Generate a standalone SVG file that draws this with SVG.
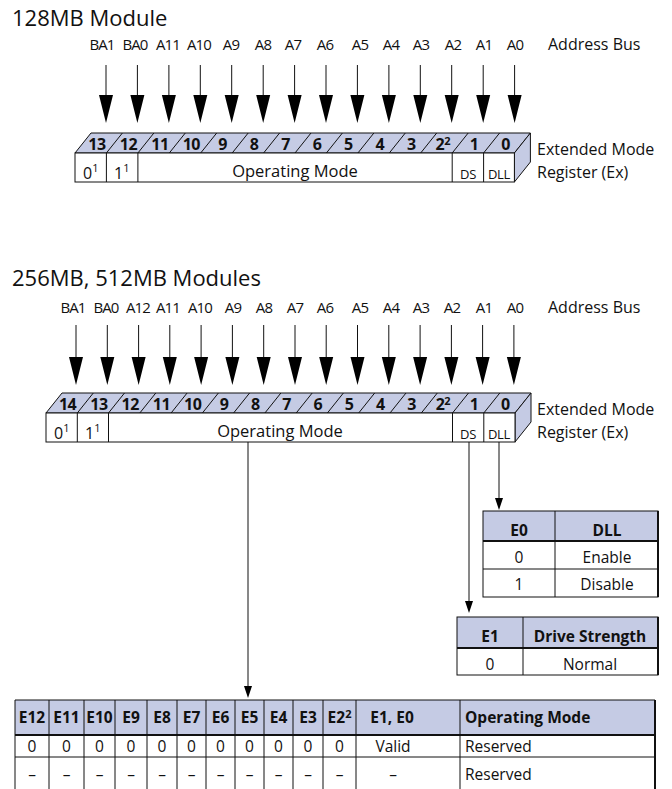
<svg xmlns="http://www.w3.org/2000/svg" width="672" height="789" viewBox="0 0 672 789">
<defs>
<style>
text{font-family:"Open Sans","Noto Sans",sans-serif;fill:#111}
.title{font-size:22px}
.lbl{font-size:15px;text-anchor:middle;letter-spacing:-0.9px}
.side{font-size:16px}
.num{font-size:16px;font-weight:bold;text-anchor:middle;letter-spacing:-0.5px}
.cell{font-size:16px}
.sm{font-size:13px;text-anchor:middle;letter-spacing:-0.3px}
.op{font-size:16.5px;text-anchor:middle}
.th{font-size:15.5px;font-weight:bold;text-anchor:middle}
.td{font-size:15.5px;text-anchor:middle}
.tl{font-size:15.5px}
.band{fill:#c5cbe4;stroke:#111;stroke-width:1}
.box{fill:#fff;stroke:#111;stroke-width:1}
.ln{stroke:#111;stroke-width:1;fill:none}
.thick{stroke:#111;stroke-width:2;fill:none}
.hd{fill:#c5cbe4}
.ah{fill:#000}
</style>
</defs>

<text class="title" x="12" y="26">128MB Module</text>
<text class="title" x="12" y="286">256MB, 512MB Modules</text>

<!-- Register 1 -->
<g id="reg1">
<g id="reg1-labels">
<text class="lbl" x="102" y="50">BA1</text><text class="lbl" x="135" y="50">BA0</text><text class="lbl" x="168" y="50">A11</text><text class="lbl" x="199" y="50">A10</text><text class="lbl" x="231" y="50">A9</text><text class="lbl" x="263" y="50">A8</text><text class="lbl" x="293" y="50">A7</text><text class="lbl" x="325" y="50">A6</text><text class="lbl" x="360" y="50">A5</text><text class="lbl" x="391" y="50">A4</text><text class="lbl" x="421" y="50">A3</text><text class="lbl" x="453" y="50">A2</text><text class="lbl" x="484" y="50">A1</text><text class="lbl" x="515" y="50">A0</text>
<text class="side" x="548" y="50">Address Bus</text>
</g>
<polygon class="band" points="75,153 91,133 530.4,133 514.4,153"/>
<polygon class="band" points="514.4,153 530.4,133 530.4,162 514.4,182"/>
<rect class="box" x="75" y="153" width="439.4" height="29"/>
<g class="ln">
<line x1="106.4" y1="153" x2="122.4" y2="133"/><line x1="137.9" y1="153" x2="153.9" y2="133"/><line x1="169.3" y1="153" x2="185.3" y2="133"/><line x1="200.7" y1="153" x2="216.7" y2="133"/><line x1="232.2" y1="153" x2="248.2" y2="133"/><line x1="263.6" y1="153" x2="279.6" y2="133"/><line x1="295" y1="153" x2="311" y2="133"/><line x1="326.4" y1="153" x2="342.4" y2="133"/><line x1="357.9" y1="153" x2="373.9" y2="133"/><line x1="389.3" y1="153" x2="405.3" y2="133"/><line x1="420.7" y1="153" x2="436.7" y2="133"/><line x1="452.2" y1="153" x2="468.2" y2="133"/><line x1="483.6" y1="153" x2="499.6" y2="133"/>
<line x1="106.4" y1="153" x2="106.4" y2="182"/><line x1="137.9" y1="153" x2="137.9" y2="182"/><line x1="452.2" y1="153" x2="452.2" y2="182"/><line x1="483.6" y1="153" x2="483.6" y2="182"/>
</g>
<g>
<text class="num" x="97" y="150">13</text><text class="num" x="128.4" y="150">12</text><text class="num" x="159.9" y="150">11</text><text class="num" x="191.3" y="150">10</text><text class="num" x="222.7" y="150">9</text><text class="num" x="254.2" y="150">8</text><text class="num" x="285.6" y="150">7</text><text class="num" x="317" y="150">6</text><text class="num" x="348.4" y="150">5</text><text class="num" x="379.9" y="150">4</text><text class="num" x="411.3" y="150">3</text><text class="num" x="442.7" y="150">2<tspan font-size="11" dy="-5">2</tspan></text><text class="num" x="474.2" y="150">1</text><text class="num" x="505.6" y="150">0</text>
</g>
<text class="cell" x="83" y="179">0<tspan font-size="11" dy="-7">1</tspan></text>
<text class="cell" x="114" y="179">1<tspan font-size="11" dy="-7">1</tspan></text>
<text class="op" x="295" y="177">Operating Mode</text>
<text class="sm" x="468" y="179">DS</text>
<text class="sm" x="499" y="179">DLL</text>
<text class="side" x="537" y="155">Extended Mode</text>
<text class="side" x="537" y="178">Register (Ex)</text>
</g>

<!-- Register 2 -->
<g id="reg2">
<g id="reg2-labels">
<text class="lbl" x="73" y="313">BA1</text><text class="lbl" x="106" y="313">BA0</text><text class="lbl" x="138" y="313">A12</text><text class="lbl" x="168" y="313">A11</text><text class="lbl" x="200" y="313">A10</text><text class="lbl" x="233" y="313">A9</text><text class="lbl" x="264" y="313">A8</text><text class="lbl" x="295" y="313">A7</text><text class="lbl" x="325" y="313">A6</text><text class="lbl" x="360" y="313">A5</text><text class="lbl" x="391" y="313">A4</text><text class="lbl" x="421" y="313">A3</text><text class="lbl" x="452" y="313">A2</text><text class="lbl" x="484" y="313">A1</text><text class="lbl" x="515" y="313">A0</text>
<text class="side" x="548" y="313">Address Bus</text>
</g>
<polygon class="band" points="46,413 62,393 531,393 515,413"/>
<polygon class="band" points="515,413 531,393 531,422 515,442"/>
<rect class="box" x="46" y="413" width="469" height="29"/>
<g class="ln">
<line x1="77.3" y1="413" x2="93.3" y2="393"/><line x1="108.5" y1="413" x2="124.5" y2="393"/><line x1="139.8" y1="413" x2="155.8" y2="393"/><line x1="171.1" y1="413" x2="187.1" y2="393"/><line x1="202.4" y1="413" x2="218.4" y2="393"/><line x1="233.6" y1="413" x2="249.6" y2="393"/><line x1="264.9" y1="413" x2="280.9" y2="393"/><line x1="296.2" y1="413" x2="312.2" y2="393"/><line x1="327.4" y1="413" x2="343.4" y2="393"/><line x1="358.7" y1="413" x2="374.7" y2="393"/><line x1="390" y1="413" x2="406" y2="393"/><line x1="421.3" y1="413" x2="437.3" y2="393"/><line x1="452.5" y1="413" x2="468.5" y2="393"/><line x1="483.8" y1="413" x2="499.8" y2="393"/>
<line x1="77.3" y1="413" x2="77.3" y2="442"/><line x1="108.5" y1="413" x2="108.5" y2="442"/><line x1="452.5" y1="413" x2="452.5" y2="442"/><line x1="483.8" y1="413" x2="483.8" y2="442"/>
</g>
<g>
<text class="num" x="67.6" y="410">14</text><text class="num" x="98.9" y="410">13</text><text class="num" x="130.2" y="410">12</text><text class="num" x="161.5" y="410">11</text><text class="num" x="192.7" y="410">10</text><text class="num" x="224" y="410">9</text><text class="num" x="255.3" y="410">8</text><text class="num" x="286.5" y="410">7</text><text class="num" x="317.8" y="410">6</text><text class="num" x="349.1" y="410">5</text><text class="num" x="380.4" y="410">4</text><text class="num" x="411.6" y="410">3</text><text class="num" x="442.9" y="410">2<tspan font-size="11" dy="-5">2</tspan></text><text class="num" x="474.2" y="410">1</text><text class="num" x="505.4" y="410">0</text>
</g>
<text class="cell" x="54" y="439">0<tspan font-size="11" dy="-7">1</tspan></text>
<text class="cell" x="85" y="439">1<tspan font-size="11" dy="-7">1</tspan></text>
<text class="op" x="280" y="437">Operating Mode</text>
<text class="sm" x="468" y="439">DS</text>
<text class="sm" x="499" y="439">DLL</text>
<text class="side" x="537" y="415">Extended Mode</text>
<text class="side" x="537" y="438">Register (Ex)</text>
</g>

<!-- Connectors -->
<g id="connectors">
<g class="ln">
<line x1="106" y1="65" x2="106" y2="97"/><line x1="137.4" y1="65" x2="137.4" y2="97"/><line x1="168.9" y1="65" x2="168.9" y2="97"/><line x1="200.3" y1="65" x2="200.3" y2="97"/><line x1="231.7" y1="65" x2="231.7" y2="97"/><line x1="263.2" y1="65" x2="263.2" y2="97"/><line x1="294.6" y1="65" x2="294.6" y2="97"/><line x1="326" y1="65" x2="326" y2="97"/><line x1="357.4" y1="65" x2="357.4" y2="97"/><line x1="388.9" y1="65" x2="388.9" y2="97"/><line x1="420.3" y1="65" x2="420.3" y2="97"/><line x1="451.7" y1="65" x2="451.7" y2="97"/><line x1="483.2" y1="65" x2="483.2" y2="97"/><line x1="514.6" y1="65" x2="514.6" y2="97"/>
</g>
<g class="ah">
<polygon points="99,95 113,95 106,123"/><polygon points="130.4,95 144.4,95 137.4,123"/><polygon points="161.9,95 175.9,95 168.9,123"/><polygon points="193.3,95 207.3,95 200.3,123"/><polygon points="224.7,95 238.7,95 231.7,123"/><polygon points="256.2,95 270.2,95 263.2,123"/><polygon points="287.6,95 301.6,95 294.6,123"/><polygon points="319,95 333,95 326,123"/><polygon points="350.4,95 364.4,95 357.4,123"/><polygon points="381.9,95 395.9,95 388.9,123"/><polygon points="413.3,95 427.3,95 420.3,123"/><polygon points="444.7,95 458.7,95 451.7,123"/><polygon points="476.2,95 490.2,95 483.2,123"/><polygon points="507.6,95 521.6,95 514.6,123"/>
</g>
<g class="ln">
<line x1="76" y1="325" x2="76" y2="359"/><line x1="107.3" y1="325" x2="107.3" y2="359"/><line x1="138.6" y1="325" x2="138.6" y2="359"/><line x1="169.8" y1="325" x2="169.8" y2="359"/><line x1="201.1" y1="325" x2="201.1" y2="359"/><line x1="232.4" y1="325" x2="232.4" y2="359"/><line x1="263.7" y1="325" x2="263.7" y2="359"/><line x1="295" y1="325" x2="295" y2="359"/><line x1="326.2" y1="325" x2="326.2" y2="359"/><line x1="357.5" y1="325" x2="357.5" y2="359"/><line x1="388.8" y1="325" x2="388.8" y2="359"/><line x1="420.1" y1="325" x2="420.1" y2="359"/><line x1="451.4" y1="325" x2="451.4" y2="359"/><line x1="482.6" y1="325" x2="482.6" y2="359"/><line x1="513.9" y1="325" x2="513.9" y2="359"/>
</g>
<g class="ah">
<polygon points="69,357 83,357 76,385"/><polygon points="100.3,357 114.3,357 107.3,385"/><polygon points="131.6,357 145.6,357 138.6,385"/><polygon points="162.8,357 176.8,357 169.8,385"/><polygon points="194.1,357 208.1,357 201.1,385"/><polygon points="225.4,357 239.4,357 232.4,385"/><polygon points="256.7,357 270.7,357 263.7,385"/><polygon points="288,357 302,357 295,385"/><polygon points="319.2,357 333.2,357 326.2,385"/><polygon points="350.5,357 364.5,357 357.5,385"/><polygon points="381.8,357 395.8,357 388.8,385"/><polygon points="413.1,357 427.1,357 420.1,385"/><polygon points="444.4,357 458.4,357 451.4,385"/><polygon points="475.6,357 489.6,357 482.6,385"/><polygon points="506.9,357 520.9,357 513.9,385"/>
</g>
<line class="ln" x1="499" y1="442" x2="499" y2="499"/>
<polygon class="ah" points="495,498 503,498 499,510"/>
<line class="ln" x1="469" y1="442" x2="469" y2="602"/>
<polygon class="ah" points="465,601 473,601 469,613"/>
<line class="ln" x1="248" y1="442" x2="248" y2="687"/>
<polygon class="ah" points="244,686 252,686 248,698"/>
</g>

<!-- DLL table -->
<g id="tbl-dll">
<rect class="hd" x="483" y="511" width="175" height="30"/>
<rect class="ln" x="483" y="511" width="175" height="86"/>
<line class="thick" x1="483" y1="541" x2="658" y2="541"/>
<line class="ln" x1="483" y1="569" x2="658" y2="569"/>
<line class="ln" x1="555" y1="511" x2="555" y2="597"/>
<line class="thick" x1="658" y1="511" x2="658" y2="597"/>
<text class="th" x="519" y="536">E0</text><text class="th" x="607" y="536">DLL</text>
<text class="td" x="519" y="563">0</text><text class="td" x="607" y="563">Enable</text>
<text class="td" x="519" y="590">1</text><text class="td" x="607" y="590">Disable</text>
</g>

<!-- Drive strength table -->
<g id="tbl-ds">
<rect class="hd" x="457" y="617" width="201" height="31"/>
<rect class="ln" x="457" y="617" width="201" height="58"/>
<line class="thick" x1="457" y1="648" x2="658" y2="648"/>
<line class="ln" x1="523" y1="617" x2="523" y2="675"/>
<line class="thick" x1="658" y1="617" x2="658" y2="675"/>
<text class="th" x="490" y="642">E1</text><text class="th" x="590" y="642">Drive Strength</text>
<text class="td" x="490" y="670">0</text><text class="td" x="590" y="670">Normal</text>
</g>

<!-- Operating mode table -->
<g id="tbl-op">
<rect class="hd" x="15" y="700" width="640" height="35"/>
<path class="ln" d="M15,795 V700 H655 V795"/>
<line class="thick" x1="15" y1="735" x2="655" y2="735"/>
<line class="ln" x1="15" y1="757" x2="655" y2="757"/>
<line class="thick" x1="655" y1="700" x2="655" y2="795"/>
<g class="ln">
<line x1="49" y1="700" x2="49" y2="795"/><line x1="84" y1="700" x2="84" y2="795"/><line x1="115" y1="700" x2="115" y2="795"/><line x1="147" y1="700" x2="147" y2="795"/><line x1="177" y1="700" x2="177" y2="795"/><line x1="206" y1="700" x2="206" y2="795"/><line x1="235" y1="700" x2="235" y2="795"/><line x1="264" y1="700" x2="264" y2="795"/><line x1="293" y1="700" x2="293" y2="795"/><line x1="323" y1="700" x2="323" y2="795"/><line x1="356" y1="700" x2="356" y2="795"/><line x1="460" y1="700" x2="460" y2="795"/>
</g>
<text class="th" x="32" y="723">E12</text><text class="th" x="66.5" y="723">E11</text><text class="th" x="99.5" y="723">E10</text><text class="th" x="131" y="723">E9</text><text class="th" x="162" y="723">E8</text><text class="th" x="191.5" y="723">E7</text><text class="th" x="220.5" y="723">E6</text><text class="th" x="249.5" y="723">E5</text><text class="th" x="278.5" y="723">E4</text><text class="th" x="308" y="723">E3</text><text class="th" x="339.5" y="723">E2<tspan font-size="11" dy="-5">2</tspan></text><text class="th" x="392" y="723">E1, E0</text><text class="tl" font-weight="bold" x="465" y="723">Operating Mode</text>
<text class="td" x="32" y="752">0</text><text class="td" x="66.5" y="752">0</text><text class="td" x="99.5" y="752">0</text><text class="td" x="131" y="752">0</text><text class="td" x="162" y="752">0</text><text class="td" x="191.5" y="752">0</text><text class="td" x="220.5" y="752">0</text><text class="td" x="249.5" y="752">0</text><text class="td" x="278.5" y="752">0</text><text class="td" x="308" y="752">0</text><text class="td" x="339.5" y="752">0</text><text class="td" x="393" y="752">Valid</text><text class="tl" x="465" y="752">Reserved</text>
<text class="td" x="32" y="780">–</text><text class="td" x="66.5" y="780">–</text><text class="td" x="99.5" y="780">–</text><text class="td" x="131" y="780">–</text><text class="td" x="162" y="780">–</text><text class="td" x="191.5" y="780">–</text><text class="td" x="220.5" y="780">–</text><text class="td" x="249.5" y="780">–</text><text class="td" x="278.5" y="780">–</text><text class="td" x="308" y="780">–</text><text class="td" x="339.5" y="780">–</text><text class="td" x="393" y="780">–</text><text class="tl" x="465" y="780">Reserved</text>
</g>
</svg>
